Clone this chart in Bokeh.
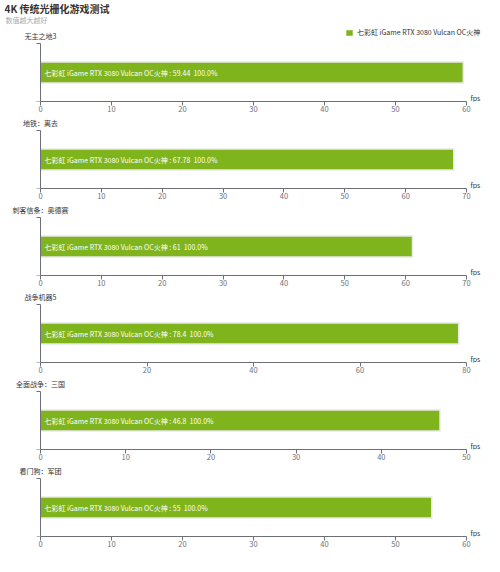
from bokeh.plotting import figure
from bokeh.models import (Range1d, Legend, LegendItem, SingleIntervalTicker, FixedTicker)
from bokeh.layouts import column
from bokeh.embed import file_html
from bokeh.resources import INLINE
from bokeh.core.properties import value

# ---------------- data ----------------
chart_title = "4K 传统光栅化游戏测试"
chart_subtitle = "数值越大越好"
series_name = "七彩虹 iGame RTX 3080 Vulcan OC火神"
games = ["无主之地3", "地铁：离去", "刺客信条：奥德赛", "战争机器5", "全面战争：三国", "看门狗：军团"]
fps_values = [59.44, 67.78, 61, 78.4, 46.8, 55]
shares = ["100.0%", "100.0%", "100.0%", "100.0%", "100.0%", "100.0%"]
axis_max = [60, 70, 70, 80, 50, 60]
tick_step = [10, 10, 10, 20, 10, 10]
unit = "fps"

# ---------------- style / layout (pixels) ----------------
FONT = "Noto Sans CJK SC"
GREEN = "#80b41c"
AXIS = "#6e7079"
TXT = "#333333"
W = 500            # figure width
L = 4              # left border (y axis panel)
X0, X1 = 40, 466   # pixel of value 0 and of axis max
HEAD = 28          # header height (inside first panel)
PANEL_TOP = 15     # px from panel top to top of bar band
BAND = 58          # px height of bar band
BOTTOM = 14        # px below x axis

plots = []
for i, (game, v, share, m, step) in enumerate(zip(games, fps_values, shares, axis_max, tick_step)):
    extra = HEAD if i == 0 else 0
    frame_h = extra + PANEL_TOP + BAND
    k = m / (X1 - X0)                # data units per pixel (x)
    ky = 1.0 / BAND                  # data units per pixel (y)
    y0 = -0.5
    y_top = y0 + frame_h * ky

    p = figure(width=W, height=frame_h + BOTTOM,
               x_range=Range1d((L - X0) * k, m + (W - X1) * k),
               y_range=Range1d(y0, y_top),
               toolbar_location=None, output_backend="svg",
               min_border_left=L, min_border_right=0, min_border_top=0,
               min_border_bottom=BOTTOM)
    p.grid.visible = False
    p.outline_line_color = None
    p.background_fill_color = "white"
    p.border_fill_color = "white"

    # soft shadow + bar
    p.hbar(y=[0], left=0, right=[v + 1.5 * k], height=0.34 + 3 * ky,
           fill_color="#000000", fill_alpha=0.09, line_color=None)
    r = p.hbar(y=[0], left=0, right=[v], height=0.34, fill_color=GREEN, line_color=None)
    p.text(x=[0], y=[0], text=[f"{series_name} : {v:g} \u00a0{share}"], x_offset=4,
           text_baseline="middle", text_color="white", text_font=value(FONT),
           text_font_size="7px")

    # x axis
    xa = p.xaxis[0]
    xa.bounds = (0, m)
    xa.ticker = SingleIntervalTicker(interval=step)
    xa.axis_line_color = AXIS
    xa.major_tick_line_color = AXIS
    xa.major_tick_out = 4
    xa.major_tick_in = 0
    xa.minor_tick_out = 0
    xa.minor_tick_in = 0
    xa.major_label_text_font = FONT
    xa.major_label_text_font_size = "7.5px"
    xa.major_label_text_color = AXIS
    xa.major_label_standoff = 0

    # y axis (category band boundaries)
    ya = p.yaxis[0]
    ya.fixed_location = 0
    ya.bounds = (-0.5, 0.5)
    ya.ticker = FixedTicker(ticks=[-0.5, 0.5])
    ya.major_label_overrides = {-0.5: "", 0.5: ""}
    ya.major_label_standoff = 0
    ya.axis_line_color = AXIS
    ya.major_tick_line_color = AXIS
    ya.major_tick_out = 4
    ya.major_tick_in = 0
    ya.minor_tick_out = 0
    ya.minor_tick_in = 0

    # panel name above the y axis, unit at the end of the x axis
    p.text(x=[0], y=[y_top - (extra + 7) * ky], text=[game], text_align="center",
           text_baseline="middle", text_font=value(FONT), text_font_size="7px",
           text_color=TXT)
    p.text(x=[m], y=[y0 + 4 * ky], text=[unit], x_offset=4, text_align="left",
           text_baseline="middle", text_font=value(FONT), text_font_size="7px",
           text_color=TXT)

    if i == 0:
        p.text(x=[(L - X0) * k], y=[y_top - 8 * ky], text=[chart_title],
               text_baseline="middle", text_font=value(FONT), text_font_size="10px",
               text_font_style="bold", text_color=TXT)
        p.text(x=[(L + 1 - X0) * k], y=[y_top - 19 * ky], text=[chart_subtitle],
               text_baseline="middle", text_font=value(FONT), text_font_size="7px",
               text_color="#aaaaaa")
        leg = Legend(items=[LegendItem(label=series_name, renderers=[r])],
                     location=(345 - L, frame_h - 33 - 4), border_line_color=None,
                     background_fill_alpha=0, padding=0, margin=0,
                     label_text_font=FONT, label_text_font_size="7px",
                     label_text_color=TXT, glyph_width=8, glyph_height=7,
                     label_height=7, label_standoff=4, spacing=0)
        p.add_layout(leg)
    plots.append(p)

layout = column(*plots, spacing=0)
open("out.html", "w").write(file_html(layout, INLINE))
